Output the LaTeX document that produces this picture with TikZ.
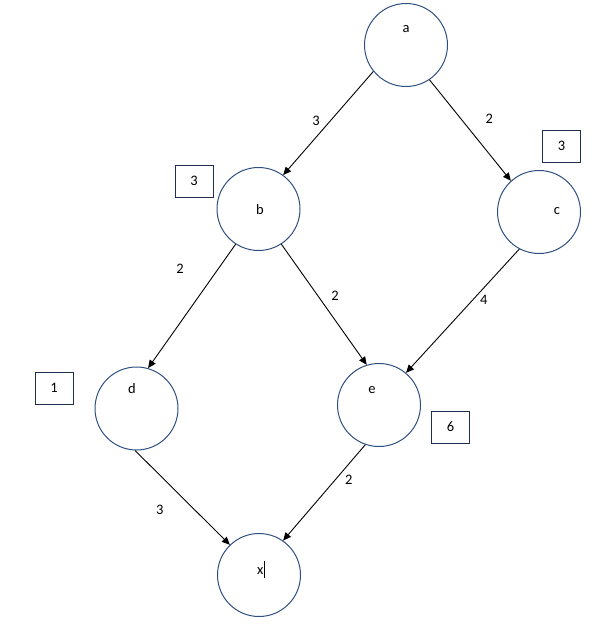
\documentclass[tikz,border=0pt]{standalone}
\usepackage{fontspec}
\setmainfont{Carlito}
\usepackage{tikz}
\usetikzlibrary{arrows.meta}
\definecolor{ringblue}{HTML}{2F4F80}
\definecolor{boxnavy}{HTML}{1F2F50}
\tikzset{
  vtx/.style ={circle, draw=ringblue, line width=1pt, minimum size=83pt, inner sep=0pt},
  wbox/.style={rectangle, draw=boxnavy, line width=1pt, minimum width=38pt,
               minimum height=32pt, inner sep=0pt, font=\fontsize{14.5}{16}\selectfont},
  vlbl/.style={inner sep=0pt, font=\fontsize{14.5}{16}\selectfont},
  wt/.style  ={inner sep=0pt, font=\fontsize{14.5}{16}\selectfont},
  arr/.style ={-{Triangle[length=8pt, width=7pt]}, line width=0.9pt}
}
\begin{document}
\begin{tikzpicture}[x=1pt, y=-1pt]
  \useasboundingbox (0,0) rectangle (600,626);
  % vertices
  \node[vtx] (a) at (406,45) {};
  \node[vtx] (b) at (258.5,209) {};
  \node[vtx] (c) at (539,212) {};
  \node[vtx] (d) at (136.5,408.5) {};
  \node[vtx] (e) at (379,405) {};
  \node[vtx] (x) at (259,575) {};
  \node[vlbl] (ta) at (406,29) {a};
  \node[vlbl] (tb) at (260,210) {b};
  \node[vlbl] (tc) at (557,211) {c};
  \node[vlbl] (td) at (132,389) {d};
  \node[vlbl] (te) at (372,390) {e};
  \node[vlbl] (tx) at (261,569) {x\kern0.5pt\rule[-3pt]{0.9pt}{17pt}};
  % boxes
  \node[wbox] (bb) at (194,181) {3};
  \node[wbox] (cb) at (561.5,146) {3};
  \node[wbox] (db) at (54,388) {1};
  \node[wbox] (eb) at (450.5,427) {6};
  % edges
  \draw[arr] (a.219) -- node[wt, pos=0.48, xshift=-14pt] {3} (b.54);
  \draw[arr] (a.304) -- node[wt, pos=0.39, xshift=28pt] {2} (c.132);
  \draw[arr] (b.237) -- node[wt, pos=0.2, xshift=-38pt] {2} (d.74);
  \draw[arr] (b.303) -- node[wt, pos=0.43, xshift=17pt] {2} (e.107);
  \draw[arr] (c.242) -- node[wt, pos=0.41, xshift=11pt] {4} (e.50);
  \draw[arr] (d.268) -- node[wt, pos=0.63, xshift=-35pt] {3} (x.134);
  \draw[arr] (e.251) -- node[wt, pos=0.37, xshift=14pt] {2} (x.55);
\end{tikzpicture}
\end{document}
